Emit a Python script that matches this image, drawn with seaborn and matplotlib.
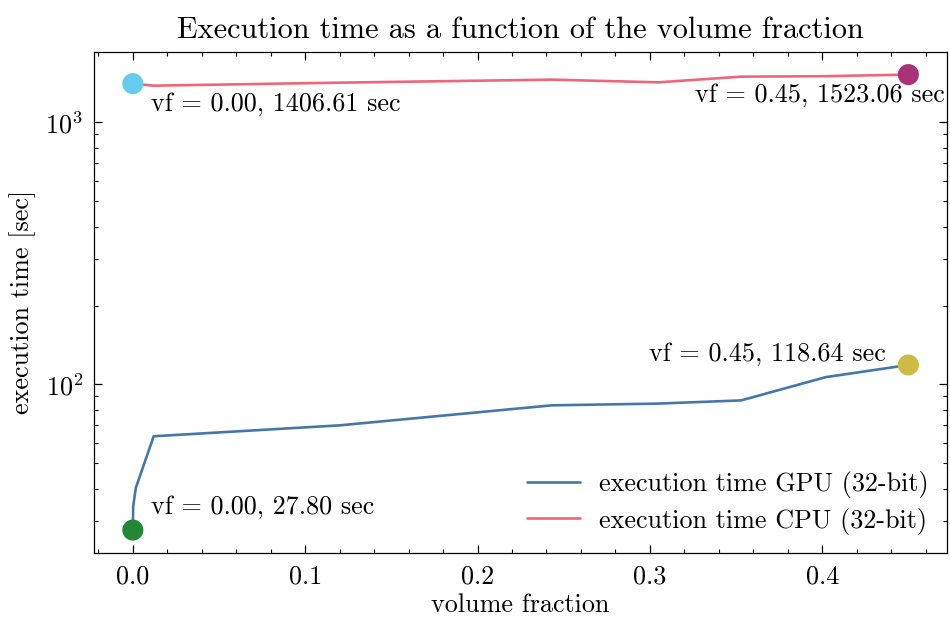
import matplotlib
matplotlib.use("Agg")
import matplotlib.pyplot as plt
import matplotlib.ticker as mticker
import numpy as np
import pandas as pd
import seaborn as sns

# measured execution times (seconds) against volume fraction
vf_gpu = [0.0, 0.0002, 0.0017, 0.0121, 0.1202, 0.243, 0.305, 0.353, 0.402, 0.45]
t_gpu = [27.80, 34.2, 40.2, 63.4, 69.8, 83.2, 84.5, 86.9, 106.6, 118.64]
vf_cpu = [0.0, 0.0121, 0.1202, 0.243, 0.305, 0.353, 0.402, 0.45]
t_cpu = [1406.61, 1382.0, 1419.0, 1457.0, 1423.0, 1496.0, 1502.0, 1523.06]

label_gpu = "execution time GPU (32-bit)"
label_cpu = "execution time CPU (32-bit)"

FS = 18.8

sns.set_style("ticks")
plt.rcParams.update({
    "font.family": ["cmr10", "DejaVu Serif"],
    "mathtext.fontset": "cm",
    "axes.unicode_minus": False,
    "axes.formatter.use_mathtext": True,
    "font.size": FS,
    "text.color": "black",
    "axes.labelcolor": "black",
    "axes.edgecolor": "black",
    "xtick.color": "black",
    "ytick.color": "black",
    "xtick.direction": "in",
    "ytick.direction": "in",
    "xtick.top": True,
    "ytick.right": True,
    "xtick.minor.visible": True,
    "ytick.minor.visible": True,
    "xtick.major.size": 6,
    "ytick.major.size": 6,
    "xtick.minor.size": 3,
    "ytick.minor.size": 3,
    "xtick.major.width": 0.9,
    "ytick.major.width": 0.9,
    "xtick.minor.width": 0.8,
    "ytick.minor.width": 0.8,
    "xtick.major.pad": 8.5,
    "ytick.major.pad": 8.0,
    "axes.linewidth": 0.9,
})

df = pd.concat([
    pd.DataFrame({"vf": vf_gpu, "t": t_gpu, "series": label_gpu}),
    pd.DataFrame({"vf": vf_cpu, "t": t_cpu, "series": label_cpu}),
])

fig = plt.figure(figsize=(9.5, 6.17), dpi=100)
ax = fig.add_axes([0.099, 0.104, 0.898, 0.812])

sns.lineplot(data=df, x="vf", y="t", hue="series",
             hue_order=[label_gpu, label_cpu],
             palette={label_gpu: "#4477AA", label_cpu: "#EE6677"},
             sort=False, estimator=None, linewidth=1.9, ax=ax)
ax.set_yscale("log")

# highlight the end points of each series
ends = [
    (vf_cpu[0], t_cpu[0], "#66CCEE", (18, -20), "left"),
    (vf_cpu[-1], t_cpu[-1], "#AA3377", (36, -21), "right"),
    (vf_gpu[-1], t_gpu[-1], "#CCBB44", (-23, 11), "right"),
    (vf_gpu[0], t_gpu[0], "#228833", (18, 23), "left"),
]
for x, y, c, off, ha in ends:
    ax.scatter([x], [y], s=230, color=c, zorder=5, edgecolors="none")
    ax.annotate(f"vf = {x:.2f}, {y:.2f} sec", (x, y), xytext=off,
                textcoords="offset pixels", ha=ha, va="center", fontsize=FS)

ax.xaxis.set_major_locator(mticker.MultipleLocator(0.1))
ax.xaxis.set_minor_locator(mticker.MultipleLocator(0.02))
ax.xaxis.set_major_formatter(mticker.FormatStrFormatter("%.1f"))
ax.tick_params(which="both", top=True, right=True, direction="in", labelsize=FS)

ax.set_xlabel("volume fraction", fontsize=FS, labelpad=3.5)
ax.set_ylabel("execution time [sec]", fontsize=FS, labelpad=7)
ax.set_title("Execution time as a function of the volume fraction", fontsize=21.8, pad=10)

leg = ax.legend(loc="lower right", frameon=False, fontsize=FS,
                handlelength=2.0, handletextpad=0.75, labelspacing=0.35,
                borderaxespad=0.3)

fig.savefig("out.png", dpi=100)
